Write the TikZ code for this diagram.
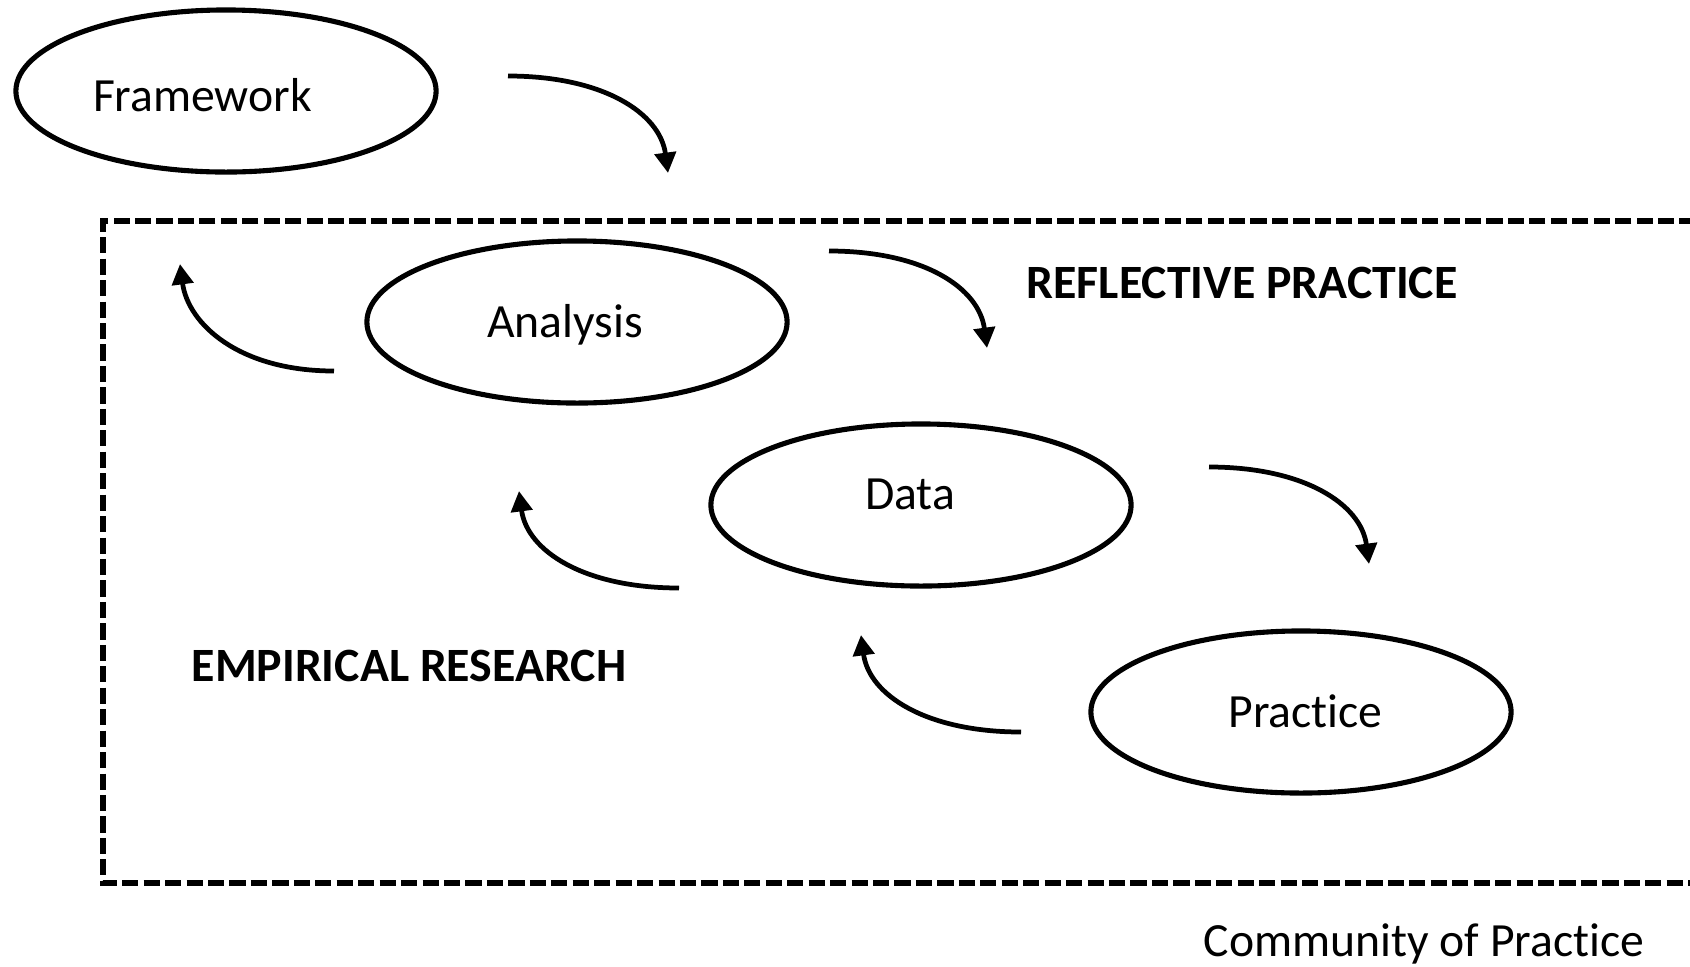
\documentclass[tikz,border=0pt]{standalone}
\usepackage{fontspec}
\setmainfont[Ligatures=NoCommon]{Carlito}
\usetikzlibrary{arrows.meta,shapes.geometric}
\tikzset{
  oval/.style={ellipse,draw,line width=1.45pt,minimum width=4.2cm,minimum height=1.62cm,inner sep=0pt},
  curvy/.style={line width=1.35pt,-{Triangle[length=5.8pt,width=6pt]}},
  heading/.style={font=\fontsize{13.6}{16}\selectfont\bfseries,anchor=base west,inner sep=0pt},
}
\begin{document}
\begin{tikzpicture}[x=0.01cm,y=-0.01cm,font=\fontsize{13.55}{16}\selectfont]
  \useasboundingbox (0,0) rectangle (1690,966);
  \clip (0,0) rectangle (1690,966);
  % community box, open past the right edge
  \draw[line width=1.5pt,dash pattern=on 4.6pt off 1.5pt] (1760,221) -- (103,221) -- (103,883) -- (1760,883);

  \node[oval,label={[anchor=base,xshift=-0.235cm,yshift=-0.04cm]center:Framework}] (framework) at (226,91) {};
  \node[oval,label={[anchor=base,xshift=-0.12cm,yshift=-0.03cm]center:Analysis}] (analysis) at (577,322) {};
  \node[oval,label={[anchor=base,xshift=-0.11cm,yshift=0.105cm]center:Data}] (data) at (921,505) {};
  \node[oval,label={[anchor=base,xshift=0.045cm,yshift=0.004cm]center:Practice}] (practice) at (1301,712) {};

  \node[heading] (reflective) at (1026,298) {REFLECTIVE PRACTICE};
  \node[heading] (empirical) at (191,681) {EMPIRICAL RESEARCH};
  \node[anchor=base west,inner sep=0pt] (community) at (1203,956) {Community of Practice};

  % downward arcs
  \coordinate (fw-s) at (508,76);   \coordinate (fw-e) at (668,173);
  \coordinate (an-s) at (829,251);  \coordinate (an-e) at (987,348);
  \coordinate (da-s) at (1209,467); \coordinate (da-e) at (1369,564);
  \draw[curvy] (fw-s) .. controls +(95,0) and +(-8,-60) .. (fw-e);
  \draw[curvy] (an-s) .. controls +(95,0) and +(-8,-60) .. (an-e);
  \draw[curvy] (da-s) .. controls +(95,0) and +(-8,-60) .. (da-e);

  % upward arcs
  \coordinate (ba-s) at (334,371);  \coordinate (ba-e) at (180,264);
  \coordinate (bd-s) at (679,588);  \coordinate (bd-e) at (519,491);
  \coordinate (bp-s) at (1021,732); \coordinate (bp-e) at (861,635);
  \draw[curvy] (ba-s) .. controls +(-95,0) and +(8,60) .. (ba-e);
  \draw[curvy] (bd-s) .. controls +(-95,0) and +(8,60) .. (bd-e);
  \draw[curvy] (bp-s) .. controls +(-95,0) and +(8,60) .. (bp-e);
\end{tikzpicture}
\end{document}
